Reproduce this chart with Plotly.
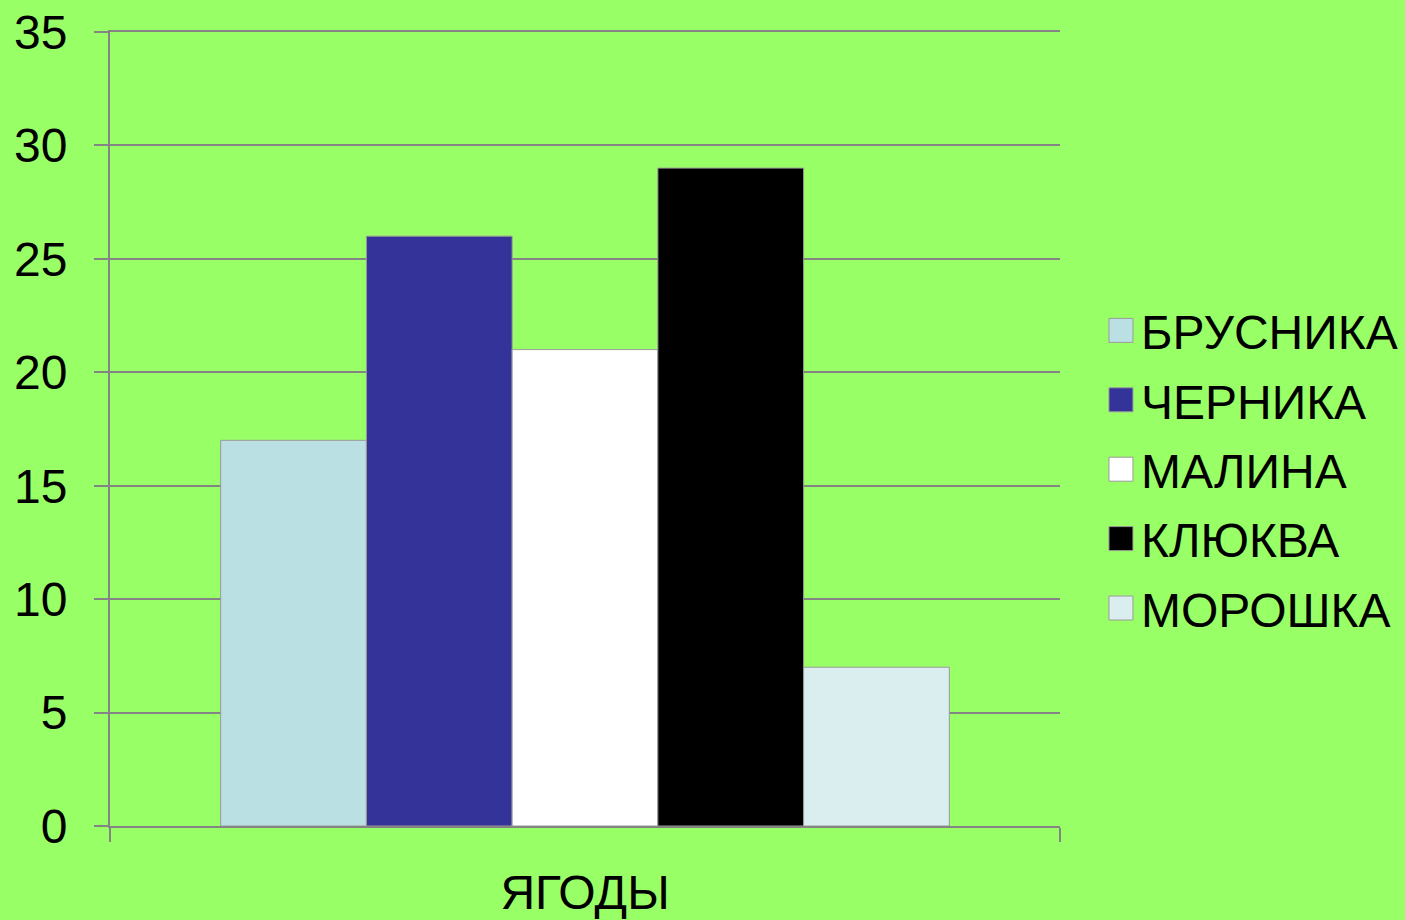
import plotly.graph_objects as go

category = ["ЯГОДЫ"]
series_names = ["БРУСНИКА", "ЧЕРНИКА", "МАЛИНА", "КЛЮКВА", "МОРОШКА"]
series_values = [17, 26, 21, 29, 7]
series_colors = ["#BBE0E3", "#333399", "#FFFFFF", "#000000", "#DAEDEF"]
y_ticks = [0, 5, 10, 15, 20, 25, 30, 35]

FONT = "Liberation Sans, Arial, sans-serif"
GRID = "#848484"

fig = go.Figure()
for name, val, col in zip(series_names, series_values, series_colors):
    fig.add_trace(go.Bar(
        x=category, y=[val], name=name, legendgroup=name,
        marker=dict(color=col, line=dict(color="#9a9a9a", width=1)),
    ))

fig.update_layout(
    width=1405, height=920,
    paper_bgcolor="#99FF66", plot_bgcolor="#99FF66",
    margin=dict(l=110, r=345, t=32, b=94, autoexpand=False),
    barmode="group", bargap=0.233, bargroupgap=0,
    font=dict(family=FONT, color="#000000"),
    showlegend=True,
    legend=dict(
        xref="container", yref="container",
        x=0.7836, xanchor="left", y=0.49, yanchor="middle",
        font=dict(size=48, family=FONT, color="#000000"),
        bgcolor="rgba(0,0,0,0)", tracegroupgap=4,
    ),
    xaxis=dict(
        range=[-0.5, 0.5], showgrid=False, showline=True, mirror=True,
        linecolor=GRID, linewidth=2, automargin=False,
        ticks="outside", tickson="boundaries", ticklen=14, tickcolor=GRID, tickwidth=2,
        tickfont=dict(size=48, family=FONT), ticklabelstandoff=23,
    ),
    yaxis=dict(
        range=[0, 35], tickvals=y_ticks, showgrid=True, gridcolor=GRID, gridwidth=1.5,
        showline=True, linecolor=GRID, linewidth=2, zeroline=False, automargin=False,
        ticks="outside", ticklen=14, tickcolor=GRID, tickwidth=2,
        tickfont=dict(size=48, family=FONT), ticklabelstandoff=17,
    ),
)

post = """
document.body.style.margin = '0';
document.body.style.overflow = 'hidden';
document.documentElement.style.overflow = 'hidden';
var gd = document.getElementById('{plot_id}');
function bigSymbols() {
  gd.querySelectorAll('.legend .legendpoints path').forEach(function(p){
    p.setAttribute('d', 'M12,12H-12V-12H12Z');
  });
}
bigSymbols();
gd.on('plotly_afterplot', bigSymbols);
"""

fig.write_html("out.html", post_script=post, config={"displayModeBar": False})
